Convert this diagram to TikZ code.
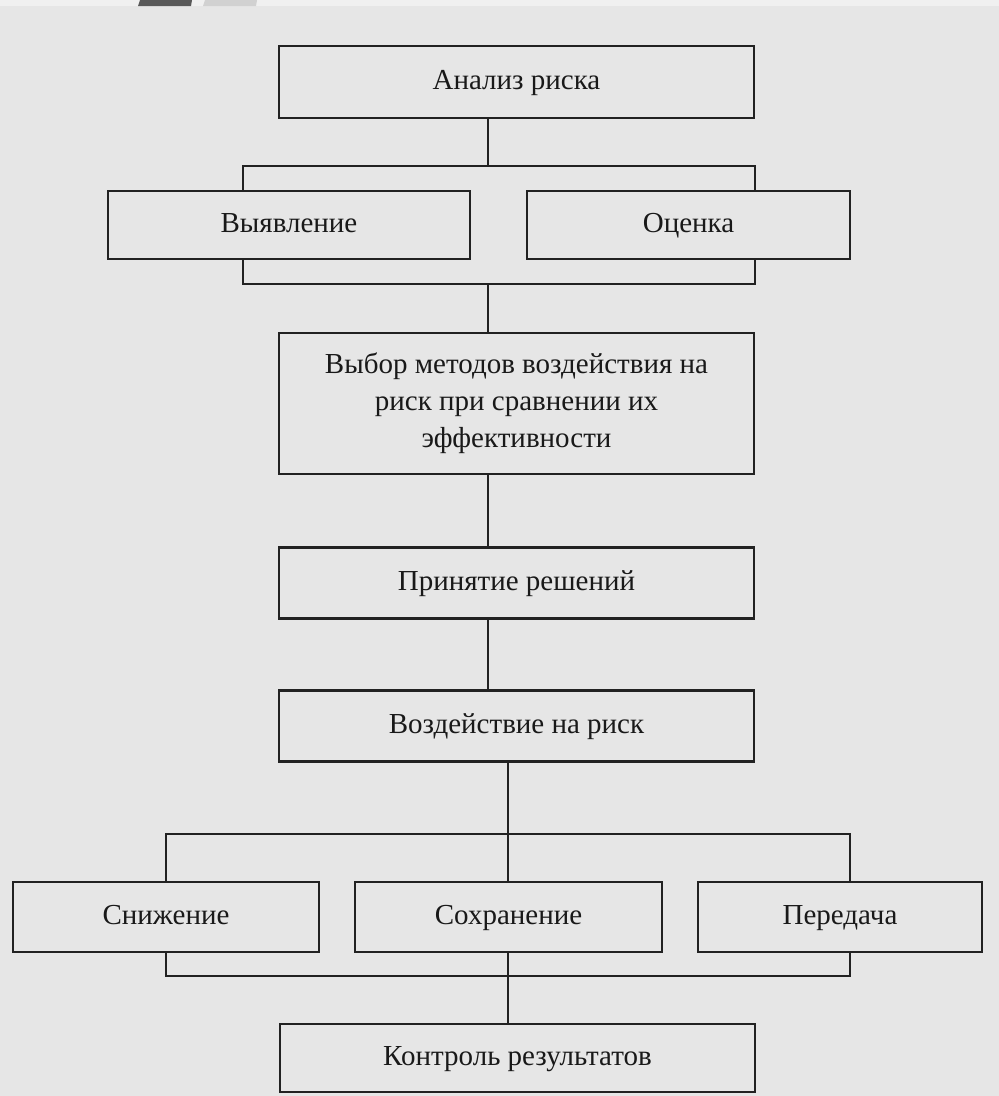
\documentclass[tikz,border=0pt]{standalone}
\usepackage{fontspec}
\setmainfont{Liberation Serif}
\usepackage{tikz}
\definecolor{slidebg}{HTML}{E6E6E6}
\definecolor{stripbg}{HTML}{F0F0F0}
\definecolor{inkline}{HTML}{222222}
\begin{document}
\begin{tikzpicture}[x=1pt, y=-1pt,
    box/.style={draw=inkline, line width=2.2pt, fill=slidebg, inner sep=0pt,
                text=black!90, font=\fontsize{29}{37}\selectfont, align=center},
    linebox/.style={box, text height=20pt, text depth=6pt},
    link/.style={draw=inkline, line width=2.2pt}]
      \fill[slidebg] (0,0) rectangle (999,1096);
      \useasboundingbox (0,0) rectangle (999,1096);
      \fill[stripbg] (0,0) rectangle (999,6);
      \fill[black!65] (140,0) -- (192,0) -- (191,6) -- (138,6) -- cycle;
      \fill[black!18] (205,0) -- (257,0) -- (256,6) -- (203,6) -- cycle;

      \coordinate (ta) at (488,166);
      \coordinate (tb) at (488,284);
      \coordinate (ba) at (508,834);
      \coordinate (bb) at (508,976);

      \draw[link] (243,166) rectangle (755,284);
      \draw[link] (166,834) rectangle (850,976);
      \draw[link] (ba) -- (bb);

      \node[linebox, minimum width=475, minimum height=72] (analiz) at (516.5,82) {Анализ риска};

      \node[linebox, minimum width=362, minimum height=68] (vyyav) at (289,225) {Выявление};
      \node[linebox, minimum width=323, minimum height=68] (ocenka) at (688.5,225) {Оценка};

      \node[box, minimum width=475, minimum height=141] (vybor) at (516.5,403.5)
        {Выбор методов воздействия на\\риск при сравнении их\\эффективности};

      \node[linebox, minimum width=475, minimum height=71] (prin) at (516.5,583) {Принятие решений};
      \node[linebox, minimum width=475, minimum height=71] (vozd) at (516.5,726) {Воздействие на риск};

      \node[linebox, minimum width=306, minimum height=70] (snizh) at (166,917) {Снижение};
      \node[linebox, minimum width=307, minimum height=70] (sohr) at (508.5,917) {Сохранение};
      \node[linebox, minimum width=284, minimum height=70] (pered) at (840,917) {Передача};

      \node[linebox, minimum width=475, minimum height=68] (kontr) at (517.5,1058) {Контроль результатов};

      \draw[link] (analiz.south -| ta) -- (ta);
      \draw[link] (tb) -- (vybor.north -| tb);
      \draw[link] (vybor.south -| tb) -- (prin.north -| tb);
      \draw[link] (prin.south -| tb) -- (vozd.north -| tb);
      \draw[link] (vozd.south -| ba) -- (ba);
      \draw[link] (bb) -- (kontr.north -| bb);
    \end{tikzpicture}
\end{document}
